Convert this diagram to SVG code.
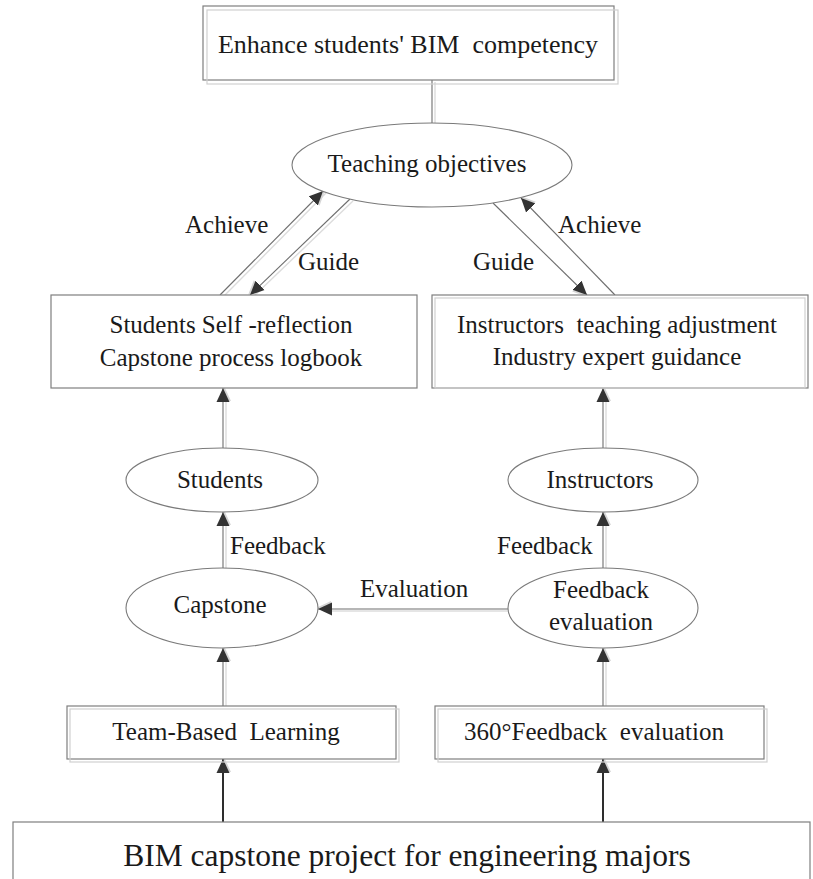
<svg xmlns="http://www.w3.org/2000/svg" width="813" height="879" viewBox="0 0 813 879">
  <style>
    .box { fill: #ffffff; stroke: #7f7f7f; stroke-width: 1.2; }
    .shadow { fill: none; stroke: #d0d0d0; stroke-width: 1.2; }
    .oval { fill: #ffffff; stroke: #7a7a7a; stroke-width: 1.1; }
    .t { font-family: "Liberation Serif", "Times New Roman", serif; font-size: 25px; fill: #1a1a1a; text-anchor: middle; }
    .big { font-size: 26px; }
    .base { font-size: 31.5px; }
    .lbl { font-family: "Liberation Serif", "Times New Roman", serif; font-size: 25px; fill: #1a1a1a; }
    .ln { stroke: #6e6e6e; stroke-width: 1.1; fill: none; }
    .lnsh { stroke: #dcdcdc; stroke-width: 1.4; fill: none; }
    .thick { stroke: #2e2e2e; stroke-width: 2; fill: none; }
  </style>
  <defs>
    <marker id="arrow" viewBox="0 0 16 16" refX="14" refY="7" markerWidth="16" markerHeight="16" markerUnits="userSpaceOnUse" orient="auto">
      <path d="M1,2 L15,8.5 L1,15 z" fill="#d6d6d6"/>
      <path d="M0,0.5 L14,7 L0,13.5 z" fill="#333333"/>
    </marker>
  </defs>

  <rect width="813" height="879" fill="#ffffff"/>

  <!-- connectors -->
  <g id="connectors">
    <!-- soft offset shadows of the connector lines -->
    <g transform="translate(3,2)">
      <line class="lnsh" x1="432" y1="80" x2="432" y2="123"/>
      <line class="lnsh" x1="220" y1="295" x2="323" y2="191"/>
      <line class="lnsh" x1="350" y1="199" x2="250" y2="295"/>
      <line class="lnsh" x1="223" y1="448" x2="223" y2="392"/>
      <line class="lnsh" x1="603" y1="448" x2="603" y2="392"/>
      <line class="lnsh" x1="223" y1="568" x2="223" y2="516"/>
      <line class="lnsh" x1="603" y1="568" x2="603" y2="516"/>
      <line class="lnsh" x1="508" y1="609" x2="322" y2="609"/>
      <line class="lnsh" x1="223" y1="706" x2="223" y2="652"/>
      <line class="lnsh" x1="603" y1="706" x2="603" y2="652"/>
    </g>
    <line class="ln" x1="432" y1="80" x2="432" y2="123"/>
    <!-- left pair: Achieve / Guide -->
    <line class="ln" x1="220" y1="295" x2="323" y2="191" marker-end="url(#arrow)"/>
    <line class="ln" x1="350" y1="199" x2="250" y2="295" marker-end="url(#arrow)"/>
    <!-- right pair: Guide / Achieve -->
    <line class="ln" x1="493" y1="203" x2="587" y2="295" marker-end="url(#arrow)"/>
    <line class="ln" x1="615" y1="295" x2="521" y2="198" marker-end="url(#arrow)"/>
    <!-- ellipses up to the boxes -->
    <line class="ln" x1="223" y1="448" x2="223" y2="388" marker-end="url(#arrow)"/>
    <line class="ln" x1="603" y1="448" x2="603" y2="388" marker-end="url(#arrow)"/>
    <!-- feedback -->
    <line class="ln" x1="223" y1="568" x2="223" y2="512" marker-end="url(#arrow)"/>
    <line class="ln" x1="603" y1="568" x2="603" y2="512" marker-end="url(#arrow)"/>
    <!-- evaluation -->
    <line class="ln" x1="508" y1="609" x2="318" y2="609" marker-end="url(#arrow)"/>
    <!-- methods up to ellipses -->
    <line class="ln" x1="223" y1="706" x2="223" y2="648" marker-end="url(#arrow)"/>
    <line class="ln" x1="603" y1="706" x2="603" y2="648" marker-end="url(#arrow)"/>
    <!-- project base -->
    <line class="thick" x1="223" y1="822" x2="223" y2="759" marker-end="url(#arrow)"/>
    <line class="thick" x1="603" y1="822" x2="603" y2="759" marker-end="url(#arrow)"/>

    <text class="lbl" x="185" y="233">Achieve</text>
    <text class="lbl" x="298" y="270">Guide</text>
    <text class="lbl" x="473" y="270">Guide</text>
    <text class="lbl" x="558" y="233">Achieve</text>
    <text class="lbl" x="230" y="554">Feedback</text>
    <text class="lbl" x="497" y="554">Feedback</text>
    <text class="lbl" x="360" y="597">Evaluation</text>
  </g>

  <g id="goal">
    <rect class="box" x="203" y="6" width="411" height="74"/>
    <rect class="shadow" x="207" y="10" width="411" height="74"/>
    <text class="t big" x="408" y="53" xml:space="preserve">Enhance students' BIM  competency</text>
  </g>

  <g id="objectives">
    <ellipse class="oval" cx="432" cy="165" rx="140" ry="42"/>
    <text class="t" x="427" y="172">Teaching objectives</text>
  </g>

  <g id="student-reflection">
    <rect class="box" x="51" y="295" width="366" height="93"/>
    <text class="t" x="231" y="333">Students Self -reflection</text>
    <text class="t" x="231" y="366">Capstone process logbook</text>
  </g>

  <g id="instructor-adjustment">
    <rect class="box" x="432" y="295" width="376" height="93"/>
    <rect class="shadow" x="435" y="298" width="370" height="90"/>
    <text class="t" x="617" y="333" xml:space="preserve">Instructors  teaching adjustment</text>
    <text class="t" x="617" y="365">Industry expert guidance</text>
  </g>

  <g id="students">
    <ellipse class="oval" cx="222" cy="480" rx="96" ry="32"/>
    <text class="t" x="220" y="488">Students</text>
  </g>

  <g id="instructors">
    <ellipse class="oval" cx="603" cy="480" rx="95" ry="32"/>
    <text class="t" x="600" y="488">Instructors</text>
  </g>

  <g id="capstone">
    <ellipse class="oval" cx="222" cy="608" rx="96" ry="40"/>
    <text class="t" x="220" y="613">Capstone</text>
  </g>

  <g id="feedback-evaluation">
    <ellipse class="oval" cx="603" cy="608" rx="95" ry="40"/>
    <text class="t" x="601" y="598">Feedback</text>
    <text class="t" x="601" y="630">evaluation</text>
  </g>

  <g id="team-based-learning">
    <rect class="box" x="67" y="706" width="329" height="53"/>
    <rect class="shadow" x="70" y="709" width="329" height="53"/>
    <text class="t" x="226" y="740" xml:space="preserve">Team-Based  Learning</text>
  </g>

  <g id="feedback-360">
    <rect class="box" x="435" y="706" width="329" height="53"/>
    <rect class="shadow" x="438" y="709" width="329" height="53"/>
    <text class="t" x="594" y="740" xml:space="preserve">360°Feedback  evaluation</text>
  </g>

  <g id="capstone-project">
    <rect class="box" x="13" y="822" width="797" height="70"/>
    <text class="t base" x="407" y="866">BIM capstone project for engineering majors</text>
  </g>
</svg>
